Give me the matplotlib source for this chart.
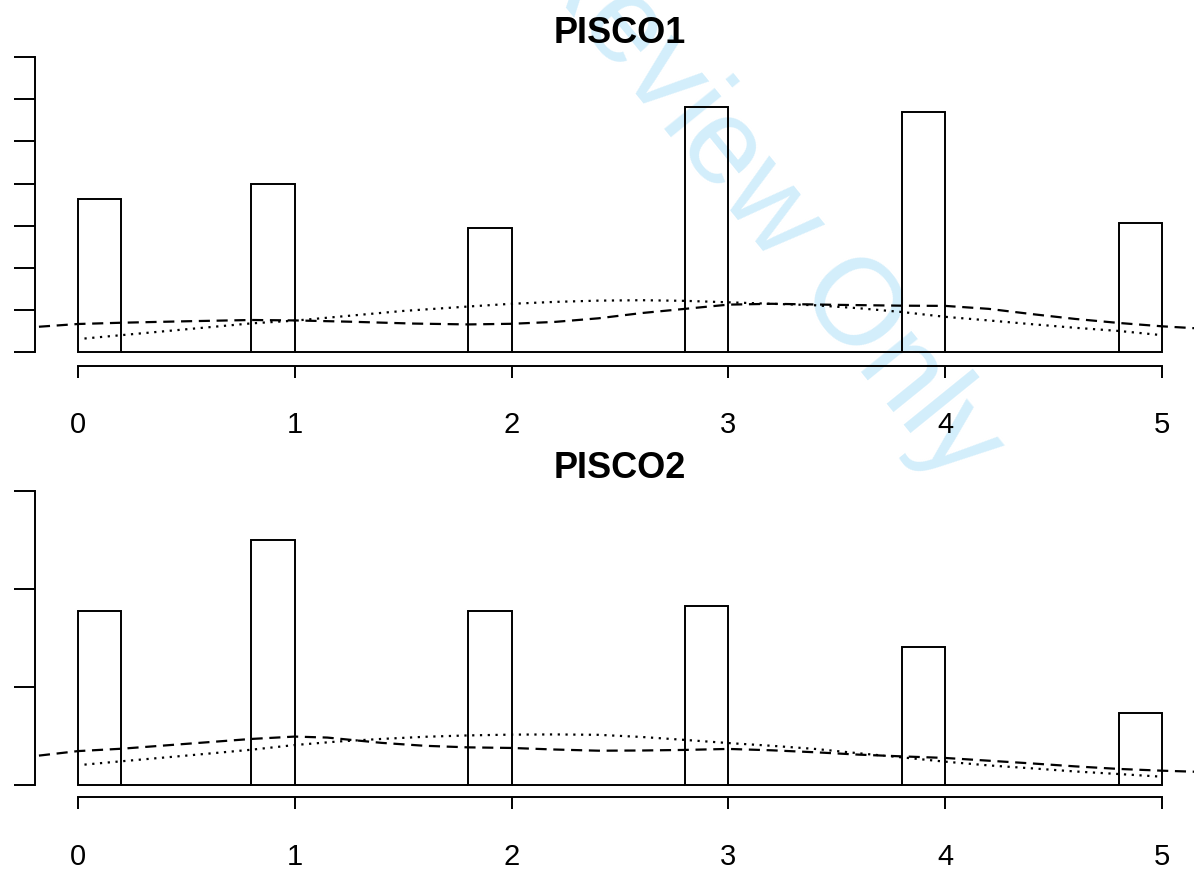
import numpy as np
import matplotlib
matplotlib.use("Agg")
import matplotlib.pyplot as plt

plt.rcParams['font.family'] = ['Liberation Sans', 'DejaVu Sans']

# observed values and histogram densities (bin width 0.2, right-closed bins)
values = [0, 1, 2, 3, 4, 5]
dens_pisco1 = [0.727, 0.798, 0.589, 1.164, 1.140, 0.613]
dens_pisco2 = [0.888, 1.250, 0.888, 0.913, 0.704, 0.367]

# density curves
dash1_x = [-0.18, 0.0, 0.2, 0.5, 0.8, 1.0, 1.25, 1.55, 1.8, 2.0, 2.2, 2.4, 2.6,
           2.8, 3.0, 3.2, 3.5, 3.8, 4.0, 4.2, 4.4, 4.6, 4.8, 5.0, 5.2]
dash1_y = [0.12, 0.133, 0.139, 0.146, 0.152, 0.150, 0.144, 0.135, 0.131, 0.134,
           0.143, 0.160, 0.185, 0.205, 0.225, 0.229, 0.224, 0.220, 0.219, 0.205,
           0.180, 0.157, 0.138, 0.122, 0.110]
dot1_x = [0.03, 0.2, 0.5, 0.8, 1.0, 1.25, 1.5, 1.8, 2.0, 2.2, 2.4, 2.6, 2.8,
          3.0, 3.2, 3.4, 3.6, 3.8, 4.0, 4.2, 4.4, 4.6, 4.8, 4.99]
dot1_y = [0.064, 0.080, 0.108, 0.136, 0.149, 0.172, 0.195, 0.216, 0.229, 0.238,
          0.244, 0.246, 0.243, 0.236, 0.229, 0.222, 0.208, 0.190, 0.167, 0.150,
          0.132, 0.115, 0.100, 0.081]

dash2_x = [-0.18, 0.0, 0.2, 0.5, 0.8, 1.0, 1.15, 1.4, 1.6, 1.8, 2.0, 2.2, 2.4,
           2.6, 2.8, 3.0, 3.2, 3.4, 3.6, 3.8, 4.0, 4.2, 4.4, 4.6, 4.8, 5.0, 5.2]
dash2_y = [0.150, 0.173, 0.185, 0.210, 0.235, 0.247, 0.242, 0.215, 0.200, 0.192,
           0.189, 0.181, 0.175, 0.176, 0.179, 0.184, 0.177, 0.167, 0.155, 0.146,
           0.138, 0.124, 0.110, 0.095, 0.082, 0.073, 0.066]
dot2_x = [0.03, 0.2, 0.5, 0.8, 1.0, 1.2, 1.4, 1.6, 1.8, 2.0, 2.2, 2.4, 2.6, 2.8,
          3.0, 3.2, 3.4, 3.6, 3.8, 4.0, 4.2, 4.4, 4.6, 4.8, 4.99]
dot2_y = [0.104, 0.121, 0.150, 0.180, 0.204, 0.222, 0.235, 0.246, 0.253, 0.257,
          0.258, 0.256, 0.245, 0.230, 0.214, 0.200, 0.184, 0.162, 0.141, 0.119,
          0.100, 0.085, 0.069, 0.056, 0.043]

bin_edges = np.arange(0, 5.0001, 0.2)


def hist_panel(ax, dens, dx, dy, tx, ty, title, ylim, yticks, title_y, pad):
    heights = np.zeros(len(bin_edges) - 1)
    for v, d in zip(values, dens):
        i = max(np.searchsorted(bin_edges, v, side='left') - 1, 0)
        heights[i] = d
    ax.bar(bin_edges[:-1], heights, width=0.2, align='edge', facecolor='none',
           edgecolor='black', linewidth=1.4, zorder=2)
    ax.plot(dx, dy, color='black', lw=1.6, linestyle=(0, (5, 3)), zorder=3)
    ax.plot(tx, ty, color='black', lw=1.6, linestyle=(0, (1, 2.5)), zorder=3)
    ax.set_xlim(-0.2, 5.2)
    ax.set_ylim(*ylim)
    ax.set_facecolor('none')
    for s in ['top', 'right']:
        ax.spines[s].set_visible(False)
    ax.spines['left'].set_bounds(yticks[0], yticks[-1])
    ax.spines['bottom'].set_bounds(0, 5)
    ax.spines['left'].set_linewidth(1.4)
    ax.spines['bottom'].set_linewidth(1.4)
    ax.set_yticks(yticks)
    ax.set_xticks(values)
    ax.tick_params(axis='y', length=15, width=1.4, labelleft=False)
    ax.tick_params(axis='x', length=8.6, width=1.4, pad=pad, labelsize=21)
    ax.text(2.5, title_y, title, ha='center', va='baseline',
            fontsize=26, fontweight='bold')


fig = plt.figure(figsize=(11.94, 8.69), dpi=100)

# watermark behind the plot
fig.text(762 / 1194, 1 - 200 / 869, 'Review Only', color='#d3eefb',
         fontsize=88, rotation=-51, rotation_mode='anchor',
         ha='center', va='center', zorder=-1)

ax1 = fig.add_axes([34.6 / 1194, 1 - 366 / 869, 1170.8 / 1194, 366 / 869])
hist_panel(ax1, dens_pisco1, dash1_x, dash1_y, dot1_x, dot1_y, 'PISCO1',
           (-0.0665, 1.672), np.arange(0, 1.41, 0.2), 1.468, 24)

ax2 = fig.add_axes([34.6 / 1194, 1 - 797 / 869, 1170.8 / 1194, 357 / 869])
hist_panel(ax2, dens_pisco2, dash2_x, dash2_y, dot2_x, dot2_y, 'PISCO2',
           (-0.0612, 1.760), [0, 0.5, 1.0, 1.5], 1.566, 24.5)

fig.savefig('out.png', dpi=100)
